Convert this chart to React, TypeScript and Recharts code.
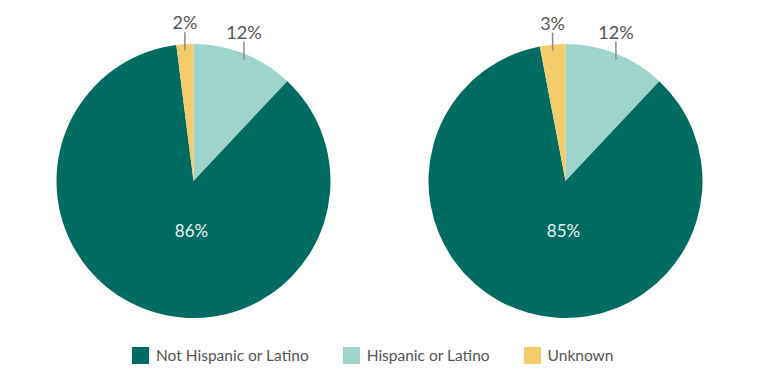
import { PieChart, Pie, Cell, Legend } from 'recharts'

const CATEGORIES = ['Hispanic or Latino', 'Not Hispanic or Latino', 'Unknown']
const LEFT_VALUES = [12, 86, 2]
const RIGHT_VALUES = [12, 85, 3]
const LEGEND_ORDER = ['Not Hispanic or Latino', 'Hispanic or Latino', 'Unknown']

const COLORS: Record<string, string> = {
  'Not Hispanic or Latino': '#006c61',
  'Hispanic or Latino': '#9fd4cc',
  'Unknown': '#f4cd6a',
}

const FONT = 'Lato, "Open Sans", sans-serif'
const RADIAN = Math.PI / 180

const toRows = (values: number[]) =>
  CATEGORIES.map((name, i) => ({ name, value: values[i] }))

const leftData = toRows(LEFT_VALUES)
const rightData = toRows(RIGHT_VALUES)

function renderLabel(props: any) {
  const { cx, cy, midAngle, outerRadius, value } = props
  if (value > 50) {
    return (
      <text
        x={cx - 2}
        y={cy + outerRadius * 0.36}
        fill="#e8f3f1"
        fontSize={17}
        fontFamily={FONT}
        textAnchor="middle"
        dominantBaseline="central"
      >
        {`${value}%`}
      </text>
    )
  }
  const x = cx + outerRadius * Math.cos(-midAngle * RADIAN)
  const y = cy + outerRadius * Math.sin(-midAngle * RADIAN)
  return (
    <g>
      <line x1={x} y1={y - 12} x2={x} y2={y + 6} stroke="#8a8a8a" strokeWidth={1.5} />
      <text
        x={x}
        y={y - 15}
        fill="#555"
        fontSize={18}
        fontFamily={FONT}
        textAnchor="middle"
      >
        {`${value}%`}
      </text>
    </g>
  )
}

function LegendContent() {
  return (
    <div
      style={{
        display: 'flex',
        justifyContent: 'flex-start',
        alignItems: 'center',
        paddingLeft: 132,
        gap: 34,
        fontFamily: FONT,
        fontSize: 15.5,
        color: '#555',
      }}
    >
      {LEGEND_ORDER.map((name) => (
        <div key={name} style={{ display: 'flex', alignItems: 'center' }}>
          <span
            style={{
              display: 'inline-block',
              width: 17,
              height: 17,
              background: COLORS[name],
              marginRight: 7,
            }}
          />
          <span>{name}</span>
        </div>
      ))}
    </div>
  )
}

export default function App() {
  return (
    <div style={{ position: 'absolute', left: 0, top: 0, width: 768, height: 386, background: '#fff' }}>
      <PieChart width={768} height={386} margin={{ top: 0, right: 0, bottom: 0, left: 0 }}>
        <Pie
          data={leftData}
          dataKey="value"
          nameKey="name"
          cx={193.5}
          cy={181}
          outerRadius={137}
          startAngle={90}
          endAngle={-270}
          stroke="none"
          label={renderLabel}
          labelLine={false}
          isAnimationActive={false}
        >
          {leftData.map((d) => (
            <Cell key={d.name} fill={COLORS[d.name]} />
          ))}
        </Pie>
        <Pie
          data={rightData}
          dataKey="value"
          nameKey="name"
          cx={565.5}
          cy={181}
          outerRadius={137}
          startAngle={90}
          endAngle={-270}
          stroke="none"
          label={renderLabel}
          labelLine={false}
          isAnimationActive={false}
        >
          {rightData.map((d) => (
            <Cell key={d.name} fill={COLORS[d.name]} />
          ))}
        </Pie>
        <Legend
          content={<LegendContent />}
          wrapperStyle={{ top: 346, left: 0, width: 768 }}
        />
      </PieChart>
    </div>
  )
}
